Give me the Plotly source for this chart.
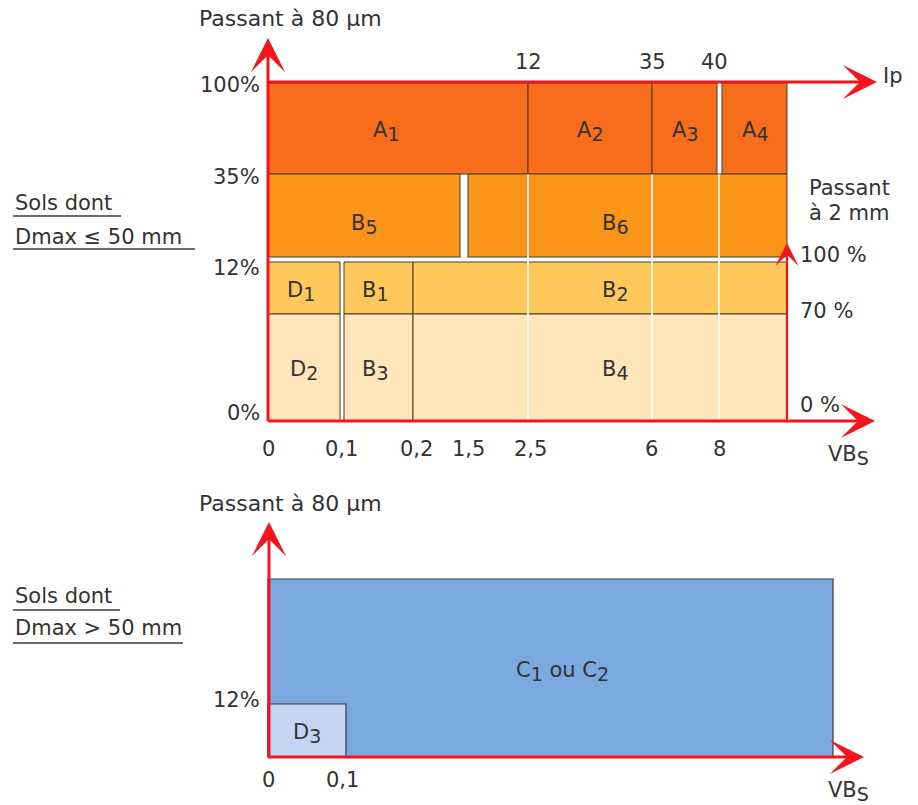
import numpy as np
import plotly.graph_objects as go

# ---------------- data ----------------
vbs_ticks = [0, 0.1, 0.2, 1.5, 2.5, 6, 8]
vbs_tick_text = ["0", "0,1", "0,2", "1,5", "2,5", "6", "8"]
ip_ticks = [12, 35, 40]
ip_tick_text = ["12", "35", "40"]
p80_ticks = [0, 12, 35, 100]
p80_tick_text = ["0%", "12%", "35%", "100%"]
p2_ticks = [0, 70, 100]
p2_tick_text = ["0 %", "70 %", "100 %"]

# upper chart: soils with Dmax <= 50 mm  (None = open upper bound)
top_class = ["A1", "A2", "A3", "A4", "B5", "B6", "D1", "B1", "B2", "D2", "B3", "B4"]
top_xvar = ["Ip", "Ip", "Ip", "Ip", "VBs", "VBs", "VBs", "VBs", "VBs", "VBs", "VBs", "VBs"]
top_x0 = [0, 12, 35, 40, 0, 1.5, 0, 0.1, 0.2, 0, 0.1, 0.2]
top_x1 = [12, 35, 40, None, 1.5, None, 0.1, 0.2, None, 0.1, 0.2, None]
top_yvar = ["p80"] * 6 + ["p2"] * 6
top_y0 = [35, 35, 35, 35, 12, 12, 70, 70, 70, 0, 0, 0]
top_y1 = [100, 100, 100, 100, 35, 35, 100, 100, 100, 70, 70, 70]
top_group = ["A", "A", "A", "A", "B", "B", "Dh", "Dh", "Dh", "Dl", "Dl", "Dl"]

# lower chart: soils with Dmax > 50 mm
bot_class = ["C", "D3"]
bot_x0 = [0, 0]
bot_x1 = [None, 0.1]
bot_y0 = [0, 0]
bot_y1 = [100, 12]
bot_tick_vbs = [0, 0.1]
bot_tick_vbs_text = ["0", "0,1"]
bot_tick_p80 = [12]
bot_tick_p80_text = ["12%"]

# ---------------- layout / schematic scales ----------------
# the diagram's axes are schematic (non-linear): piecewise-linear scale knots
TOP_VBS = ([0, 0.1, 0.2, 1.5, 2.5, 6, 8], [268, 342, 413, 464, 528, 652, 719])
TOP_IP = ([0, 12, 35, 40], [268, 528, 652, 719.5])
TOP_END_X = 787
TOP_P80 = ([0, 12, 35, 100], [421, 259.5, 174, 83])
TOP_P2 = ([0, 70, 100], [421, 314, 259.5])
BOT_VBS = ([0, 0.1], [268, 346])
BOT_END_X = 833
BOT_P80 = ([0, 12, 100], [757, 704, 579])

X_GAPS = {("VBs", 0.1): 2, ("VBs", 1.5): 4, ("Ip", 40): 2.5}
Y_GAP = 2.5

FONT = "DejaVu Sans"
FS = 21
TXT = "#333333"
RED = "#F5141E"
EDGE = "#4a3a2c"
COLORS = {"A": "#F86D1B", "B": "#FA951A", "Dh": "#FEC85A", "Dl": "#FEE6BA",
          "C": "#7BA8DE", "D3": "#C3D5F3"}
SUB_FS = 19


def sc(scale, v, end=None):
    if v is None:
        return end
    return float(np.interp(v, scale[0], scale[1]))


fig = go.Figure()
fig.update_layout(
    width=918, height=805, margin=dict(l=0, r=0, t=0, b=0),
    paper_bgcolor="white", plot_bgcolor="white", showlegend=False,
    xaxis=dict(range=[0, 918], visible=False, domain=[0, 1], fixedrange=True),
    yaxis=dict(range=[805, 0], visible=False, domain=[0, 1], fixedrange=True),
)

shapes = []
annots = []


def label(x, y, text, xanchor="center", yanchor="middle", size=FS, xshift=0, yshift=0):
    annots.append(dict(x=x, y=y, xref="x", yref="y", text=text, showarrow=False,
                       xanchor=xanchor, yanchor=yanchor, xshift=xshift, yshift=yshift,
                       font=dict(family=FONT, size=size, color=TXT)))


def subtxt(s):
    return f'<sub><span style="font-size:{SUB_FS}px">{s}</span></sub>'


def sub(name):
    return f"{name[0]}{subtxt(name[1:])}"


# ---- upper chart rectangles ----
label_dx = {"A1": -12, "B6": -12, "B2": 15, "B4": 15, "D1": -3, "B1": -3, "B3": -3}
label_dy = {"B5": -6, "B6": -6}
for name, xv, x0, x1, yv, y0, y1, g in zip(top_class, top_xvar, top_x0, top_x1,
                                            top_yvar, top_y0, top_y1, top_group):
    xs = TOP_IP if xv == "Ip" else TOP_VBS
    ys = TOP_P80 if yv == "p80" else TOP_P2
    px0, px1 = sc(xs, x0), sc(xs, x1, TOP_END_X)
    py0, py1 = sc(ys, y0), sc(ys, y1)
    px0 += X_GAPS.get((xv, x0), 0)
    px1 -= X_GAPS.get((xv, x1), 0)
    if yv == "p80" and y0 == 12:
        py0 -= Y_GAP
    if yv == "p2" and y1 == 100:
        py1 += Y_GAP
    shapes.append(dict(type="rect", xref="x", yref="y", x0=px0, x1=px1, y0=py0, y1=py1,
                       fillcolor=COLORS[g], line=dict(color=EDGE, width=1), layer="above"))
    label((px0 + px1) / 2, (py0 + py1) / 2, sub(name),
          xshift=label_dx.get(name, 0), yshift=-3 + label_dy.get(name, 0))

# white separators at Ip / VBs ticks through the B rows
for v in [2.5, 6, 8]:
    px = sc(TOP_VBS, v)
    shapes.append(dict(type="line", xref="x", yref="y", x0=px, x1=px,
                       y0=sc(TOP_P80, 35) + 0.5, y1=sc(TOP_P80, 0) - 1,
                       line=dict(color="white", width=1.6), layer="above"))

# ---- lower chart rectangles ----
for name, x0, x1, y0, y1 in zip(bot_class, bot_x0, bot_x1, bot_y0, bot_y1):
    px0, px1 = sc(BOT_VBS, x0), sc(BOT_VBS, x1, BOT_END_X)
    py0, py1 = sc(BOT_P80, y0), sc(BOT_P80, y1)
    shapes.append(dict(type="rect", xref="x", yref="y", x0=px0, x1=px1, y0=py0, y1=py1,
                       fillcolor=COLORS[name], line=dict(color="#3c3c3c", width=1.2), layer="above"))
label(550, 668, f"C{subtxt('1')} ou C{subtxt('2')}", xshift=12, yshift=-3)
label((sc(BOT_VBS, 0) + sc(BOT_VBS, 0.1)) / 2, (sc(BOT_P80, 0) + sc(BOT_P80, 12)) / 2,
      sub("D3"), yshift=-3)


# ---- red axes with arrows ----
def arrow(x0, y0, x1, y1, width=3.0, size=1.9):
    annots.append(dict(x=x1, y=y1, ax=x0, ay=y0, xref="x", yref="y", axref="x", ayref="y",
                       text="", showarrow=True, arrowhead=3, arrowsize=size,
                       arrowwidth=width, arrowcolor=RED, standoff=0))


x_org = sc(TOP_VBS, 0)
y_org = sc(TOP_P80, 0)
y_top = sc(TOP_P80, 100)
arrow(x_org, y_org + 1.5, x_org, 38)             # Passant a 80 um
arrow(x_org - 1.5, y_org, 875, y_org)           # VBs
arrow(x_org - 1.5, y_top - 1, 877, y_top - 1)   # Ip
arrow(TOP_END_X, y_org, TOP_END_X, 243, width=2.2, size=1.75)  # Passant a 2 mm

bx_org = sc(BOT_VBS, 0)
by_org = sc(BOT_P80, 0)
arrow(bx_org + 1, by_org + 1.5, bx_org + 1, 522)
arrow(bx_org - 1.5, by_org, 864, by_org)

# ---- tick labels ----
vbs_dx = [0, -1, 3, 4, 2, -1, 0]
for v, t, dx in zip(vbs_ticks, vbs_tick_text, vbs_dx):
    label(sc(TOP_VBS, v), y_org + 28, t, xshift=dx)
ip_dx = [0, 0, -5]
for v, t, dx in zip(ip_ticks, ip_tick_text, ip_dx):
    label(sc(TOP_IP, v), y_top - 21, t, xshift=dx)
p80_dy = [8, -8, -3, -2]
for v, t, dy in zip(p80_ticks, p80_tick_text, p80_dy):
    label(x_org - 6, sc(TOP_P80, v), t, xanchor="right", yshift=dy)
p2_dy = [16, 3, 5]
for v, t, dy in zip(p2_ticks, p2_tick_text, p2_dy):
    label(TOP_END_X + 11, sc(TOP_P2, v), t, xanchor="left", yshift=dy)

for v, t in zip(bot_tick_vbs, bot_tick_vbs_text):
    label(sc(BOT_VBS, v) - (4 if v else 0), by_org + 23, t)
for v, t in zip(bot_tick_p80, bot_tick_p80_text):
    label(bx_org - 6, sc(BOT_P80, v), t, xanchor="right", yshift=4)

# ---- axis titles ----
label(290, 18, "Passant à 80 µm", size=22)
label(290, 503, "Passant à 80 µm", size=22)
label(893, 76, "Ip")
label(826, y_org + 34, f"VB{subtxt('S')}", xanchor="left")
label(826, by_org + 34, f"VB{subtxt('S')}", xanchor="left")
label(807, 188, "Passant", xanchor="left")
label(807, 213, "à 2 mm", xanchor="left")

# ---- side notes (underlined) ----
notes = [("Sols dont", 203, 216, 121), ("Dmax ≤ 50 mm", 237, 249, 195),
         ("Sols dont", 596, 610, 120), ("Dmax > 50 mm", 628, 643, 183)]
for t, y, yu, xe in notes:
    label(13, y, t, xanchor="left")
    shapes.append(dict(type="line", xref="x", yref="y", x0=13, x1=xe, y0=yu, y1=yu,
                       line=dict(color="#3a3a3a", width=1.3)))

fig.update_layout(shapes=shapes, annotations=annots)

fig.write_html("out.html", config={"displayModeBar": False, "responsive": False},
               post_script="document.body.style.margin='0';document.body.style.overflow='hidden';")
